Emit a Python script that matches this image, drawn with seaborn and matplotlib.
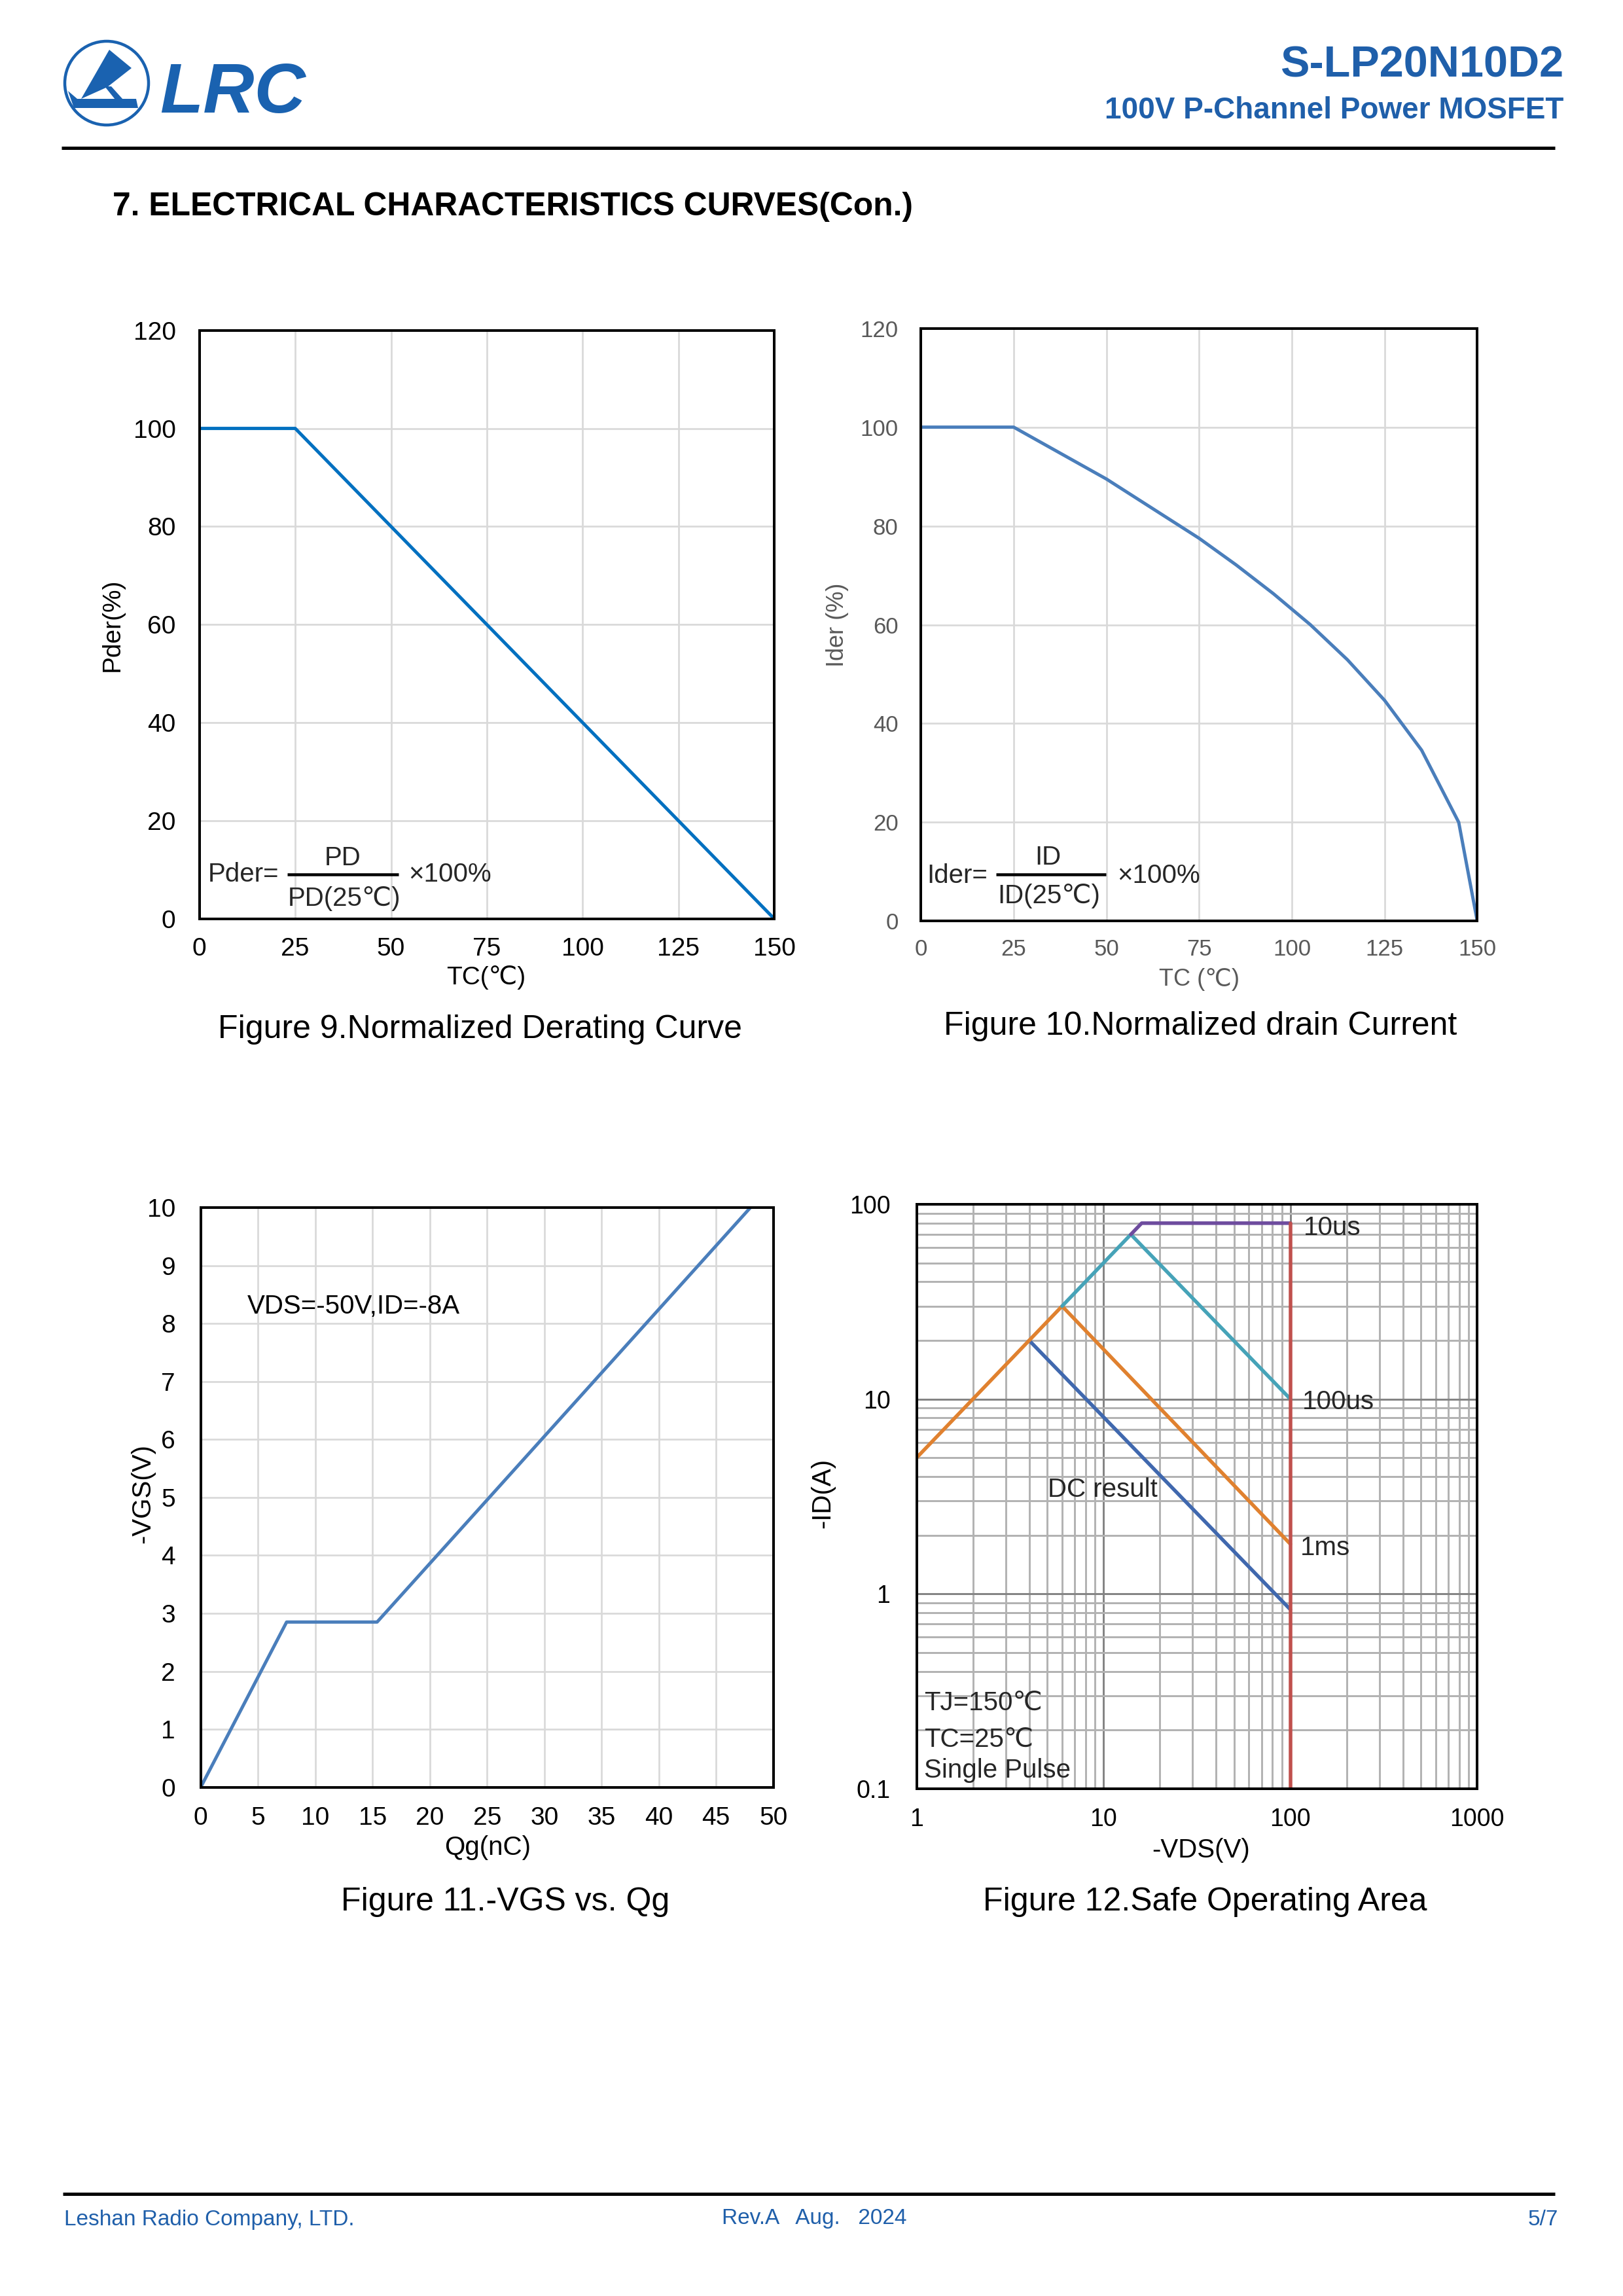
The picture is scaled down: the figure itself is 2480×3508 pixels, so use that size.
import numpy as np
import pandas as pd
import matplotlib
matplotlib.use("Agg")
import matplotlib.pyplot as plt
import matplotlib.ticker as mticker
from matplotlib.patches import Circle, Polygon
import seaborn as sns

# ---------------- data ----------------
tc_pder = [0, 25, 150]
pder = [100, 100, 0]

tc_ider = [0, 25, 50, 75, 85, 95, 105, 115, 125, 135, 145, 150]
ider = [100, 100, 89.5, 77.5, 72.1, 66.3, 60.0, 52.9, 44.7, 34.6, 20.0, 0]

qg = [0, 7.5, 15.4, 48]
vgs = [0, 2.85, 2.85, 10]

soa_10us_v = [14, 16, 100]
soa_10us_i = [70, 80, 80]
soa_100us_v = [6, 14, 100]
soa_100us_i = [30, 70, 10]
soa_1ms_v = [1, 6, 100]
soa_1ms_i = [5, 30, 1.8]
soa_dc_v = [4, 100]
soa_dc_i = [20, 0.83]
soa_lim_v = [100, 100]
soa_lim_i = [80, 0.1]

pct_ticks = [0, 20, 40, 60, 80, 100, 120]
tc_ticks = [0, 25, 50, 75, 100, 125, 150]
qg_ticks = [0, 5, 10, 15, 20, 25, 30, 35, 40, 45, 50]
vgs_ticks = [0, 1, 2, 3, 4, 5, 6, 7, 8, 9, 10]
vds_ticks = [1, 10, 100, 1000]
vds_labels = ["1", "10", "100", "1000"]
id_ticks = [0.1, 1, 10, 100]
id_labels = ["0.1", "1", "10", "100"]

# ---------------- style ----------------
sns.set_theme(style="white")
plt.rcParams['font.family'] = ['Liberation Sans', 'DejaVu Sans']
plt.rcParams['axes.unicode_minus'] = False

W, H = 2480, 3508
fig = plt.figure(figsize=(24.8, 35.08), dpi=100)
PX = 72 / 100.0  # points per pixel

BLUE_HDR = "#1F5FAA"
GRID_L = "#D9D9D9"


def frame_axes(rect):
    ax = fig.add_axes(rect)
    for s in ax.spines.values():
        s.set_visible(True)
        s.set_color('black')
        s.set_linewidth(4 * PX)
    ax.set_axisbelow(True)
    return ax


def rect_px(left, right, top, bottom):
    return [left / W, 1 - bottom / H, (right - left) / W, (bottom - top) / H]


# ---------------- Figure 9 ----------------
ax9 = frame_axes(rect_px(304.7, 1183.3, 504.7, 1404))
df9 = pd.DataFrame({"TC": tc_pder, "Pder": pder})
sns.lineplot(data=df9, x="TC", y="Pder", ax=ax9, color="#0070C0",
             lw=5 * PX, sort=False, estimator=None)
ax9.set_xlim(0, 150)
ax9.set_ylim(0, 120)
ax9.set_xticks(tc_ticks)
ax9.set_yticks(pct_ticks)
ax9.grid(True, color=GRID_L, lw=2.7 * PX)
ax9.tick_params(length=0, labelsize=28, colors='black')
ax9.tick_params(axis='x', pad=20)
ax9.tick_params(axis='y', pad=26)
ax9.set_xlabel("TC(℃)", fontsize=28, color='black')
ax9.set_ylabel("Pder(%)", fontsize=28, color='black', va='center', ha='center')
ax9.xaxis.set_label_coords(0.499, -0.100)
ax9.yaxis.set_label_coords(-0.151, 0.5)
ax9.xaxis.label.set_va('center')

# ---------------- Figure 10 ----------------
GREY_T = "#595959"
ax10 = frame_axes(rect_px(1407.3, 2257.3, 501.7, 1407.3))
df10 = pd.DataFrame({"TC": tc_ider, "Ider": ider})
sns.lineplot(data=df10, x="TC", y="Ider", ax=ax10, color="#4A7EBB",
             lw=5 * PX, sort=False, estimator=None)
ax10.set_xlim(0, 150)
ax10.set_ylim(0, 120)
ax10.set_xticks(tc_ticks)
ax10.set_yticks(pct_ticks)
ax10.grid(True, color=GRID_L, lw=2.7 * PX)
ax10.tick_params(length=0, labelsize=25, labelcolor=GREY_T)
ax10.tick_params(axis='x', pad=19)
ax10.tick_params(axis='y', pad=25)
ax10.set_xlabel("TC (℃)", fontsize=26, color=GREY_T)
ax10.set_ylabel("Ider (%)", fontsize=26, color=GREY_T, va='center', ha='center')
ax10.xaxis.set_label_coords(0.50, -0.099)
ax10.yaxis.set_label_coords(-0.150, 0.5)
ax10.xaxis.label.set_va('center')

# ---------------- Figure 11 ----------------
ax11 = frame_axes(rect_px(306.7, 1181.7, 1845, 2730.7))
df11 = pd.DataFrame({"Qg": qg, "VGS": vgs})
sns.lineplot(data=df11, x="Qg", y="VGS", ax=ax11, color="#4A7EBB",
             lw=5 * PX, sort=False, estimator=None)
ax11.set_xlim(0, 50)
ax11.set_ylim(0, 10)
ax11.set_xticks(qg_ticks)
ax11.set_yticks(vgs_ticks)
ax11.grid(True, color=GRID_L, lw=2.7 * PX)
ax11.tick_params(length=0, labelsize=28, colors='black')
ax11.tick_params(axis='x', pad=21)
ax11.tick_params(axis='y', pad=28)
ax11.set_xlabel("Qg(nC)", fontsize=29, color='black')
ax11.set_ylabel("-VGS(V)", fontsize=29, color='black', va='center', ha='center')
ax11.xaxis.set_label_coords(0.501, -0.104)
ax11.yaxis.set_label_coords(-0.101, 0.507)
ax11.xaxis.label.set_va('center')
ax11.text(0.0817, 0.83, "VDS=-50V,ID=-8A", transform=ax11.transAxes,
          fontsize=29, ha='left', va='center', color='black')

# ---------------- Figure 12 ----------------
ax12 = frame_axes(rect_px(1400.7, 2257.3, 1840, 2732.7))
series12 = [
    (soa_dc_v, soa_dc_i, "#4068AE"),
    (soa_1ms_v, soa_1ms_i, "#E0812F"),
    (soa_100us_v, soa_100us_i, "#46A3B8"),
    (soa_10us_v, soa_10us_i, "#6E4C9E"),
    (soa_lim_v, soa_lim_i, "#C0504D"),
]
for vv, ii, col in series12:
    d = pd.DataFrame({"V": vv, "I": ii})
    sns.lineplot(data=d, x="V", y="I", ax=ax12, color=col, lw=5.5 * PX,
                 sort=False, estimator=None)
ax12.set_xscale('log')
ax12.set_yscale('log')
ax12.set_xlim(1, 1000)
ax12.set_ylim(0.1, 100)
ax12.set_xticks(vds_ticks)
ax12.set_xticklabels(vds_labels)
ax12.set_yticks(id_ticks)
ax12.set_yticklabels(id_labels)
ax12.xaxis.set_minor_locator(mticker.LogLocator(base=10, subs=range(2, 10)))
ax12.yaxis.set_minor_locator(mticker.LogLocator(base=10, subs=range(2, 10)))
ax12.xaxis.set_minor_formatter(mticker.NullFormatter())
ax12.yaxis.set_minor_formatter(mticker.NullFormatter())
ax12.grid(True, which='minor', color="#B3B3B3", lw=3 * PX)
ax12.grid(True, which='major', color="#858585", lw=3 * PX)
ax12.tick_params(which='both', length=0)
ax12.tick_params(labelsize=27, colors='black')
ax12.tick_params(axis='x', pad=21)
ax12.tick_params(axis='y', pad=29)
ax12.set_xlabel("-VDS(V)", fontsize=29, color='black')
ax12.set_ylabel("-ID(A)", fontsize=29, color='black', va='center', ha='center')
ax12.xaxis.set_label_coords(0.507, -0.106)
ax12.yaxis.set_label_coords(-0.168, 0.505)
ax12.xaxis.label.set_va('center')

# ---------------- page decoration (overlay on top, pixel coordinates) ----------------
ov = fig.add_axes([0, 0, 1, 1])
ov.set_xlim(0, W)
ov.set_ylim(H, 0)
ov.axis('off')
ov.set_zorder(10)

# logo
ov.add_patch(Circle((163, 127), 64, fill=False, ec="#1A62B0", lw=4.5 * PX))
ov.add_patch(Polygon([(167, 76), (201, 104), (164, 133), (124, 151)],
                     closed=True, fc="#1A62B0", ec="none"))
ov.add_patch(Polygon([(104, 139), (118, 151), (208, 151), (211, 165), (113, 165)],
                     closed=True, fc="#1A62B0", ec="none"))
ov.add_patch(Polygon([(160, 132), (170, 132), (188, 152), (176, 152)],
                     closed=True, fc="#1A62B0", ec="none"))
ov.text(244, 172, "LRC", fontsize=78, fontweight='bold', fontstyle='italic',
        color="#1A62B0", ha='left', va='baseline')

ov.text(2389, 118, "S-LP20N10D2", fontsize=48, fontweight='bold',
        color=BLUE_HDR, ha='right', va='baseline')
ov.text(2389, 181, "100V P-Channel Power MOSFET", fontsize=33, fontweight='bold',
        color=BLUE_HDR, ha='right', va='baseline')
ov.plot([94, 2376], [226, 226], color='black', lw=5 * PX, solid_capstyle='butt')

ov.text(172, 329, "7. ELECTRICAL CHARACTERISTICS CURVES(Con.)", fontsize=35.8,
        fontweight='bold', color='black', ha='left', va='baseline')

# chart titles
ov.text(733, 1586, "Figure 9.Normalized Derating Curve", fontsize=36,
        ha='center', va='baseline', color='black')
ov.text(1834, 1581, "Figure 10.Normalized drain Current", fontsize=36,
        ha='center', va='baseline', color='black')
ov.text(772, 2919, "Figure 11.-VGS vs. Qg", fontsize=36,
        ha='center', va='baseline', color='black')
ov.text(1841, 2919, "Figure 12.Safe Operating Area", fontsize=36,
        ha='center', va='baseline', color='black')

# formula Fig 9
FS_F = 29
ov.text(318, 1347, "Pder=", fontsize=FS_F, ha='left', va='baseline')
ov.plot([439, 609], [1336, 1336], color='black', lw=4.5 * PX, solid_capstyle='butt')
ov.text(524, 1322, "PD", fontsize=FS_F, ha='center', va='baseline')
ov.text(526, 1384, "PD(25℃)", fontsize=FS_F, ha='center', va='baseline')
ov.text(624, 1347, "×100%", fontsize=FS_F, ha='left', va='baseline')

# formula Fig 10
ov.text(1416, 1349, "Ider=", fontsize=FS_F, ha='left', va='baseline')
ov.plot([1522, 1690], [1336, 1336], color='black', lw=4.5 * PX, solid_capstyle='butt')
ov.text(1601, 1321, "ID", fontsize=FS_F, ha='center', va='baseline')
ov.text(1603, 1380, "ID(25℃)", fontsize=FS_F, ha='center', va='baseline')
ov.text(1707, 1349, "×100%", fontsize=FS_F, ha='left', va='baseline')

# SOA annotations
FS_S = 29
ov.text(1992, 1887, "10us", fontsize=FS_S, ha='left', va='baseline')
ov.text(1990, 2153, "100us", fontsize=FS_S, ha='left', va='baseline')
ov.text(1987, 2376, "1ms", fontsize=FS_S, ha='left', va='baseline')
ov.text(1601, 2287, "DC result", fontsize=FS_S, ha='left', va='baseline')
ov.text(1412, 2613, "TJ=150℃", fontsize=FS_S, ha='left', va='baseline')
ov.text(1412, 2669, "TC=25℃", fontsize=FS_S, ha='left', va='baseline')
ov.text(1412, 2716, "Single Pulse", fontsize=FS_S, ha='left', va='baseline')

# footer
ov.plot([96, 2376], [3352, 3352], color='black', lw=5 * PX, solid_capstyle='butt')
ov.text(98, 3400, "Leshan Radio Company, LTD.", fontsize=24, color=BLUE_HDR,
        ha='left', va='baseline')
ov.text(1103, 3398, "Rev.A   Aug.   2024", fontsize=24, color=BLUE_HDR,
        ha='left', va='baseline')
ov.text(2381, 3400, "5/7", fontsize=24, color=BLUE_HDR, ha='right', va='baseline')

fig.savefig("out.png", dpi=100, facecolor='white')
